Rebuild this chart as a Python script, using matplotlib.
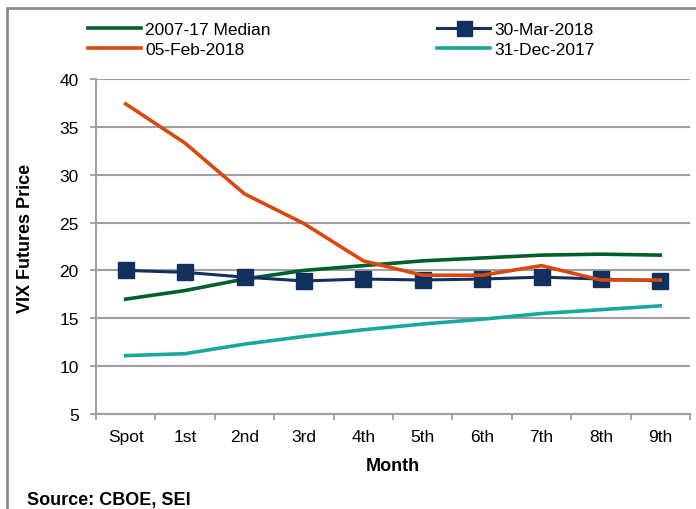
import numpy as np
import matplotlib
matplotlib.use("Agg")
import matplotlib.pyplot as plt
from matplotlib.patches import Rectangle

plt.rcParams["font.family"] = ["Liberation Sans", "DejaVu Sans"]

months = ["Spot", "1st", "2nd", "3rd", "4th", "5th", "6th", "7th", "8th", "9th"]
median_0717 = [17.0, 17.9, 19.1, 20.0, 20.5, 21.0, 21.3, 21.6, 21.7, 21.6]
mar_30_2018 = [20.0, 19.8, 19.3, 18.9, 19.1, 19.0, 19.1, 19.3, 19.1, 18.9]
feb_05_2018 = [37.4, 33.3, 28.0, 24.9, 21.0, 19.5, 19.5, 20.5, 19.0, 19.0]
dec_31_2017 = [11.1, 11.3, 12.3, 13.1, 13.8, 14.4, 14.9, 15.5, 15.9, 16.3]
yticks = [5, 10, 15, 20, 25, 30, 35, 40]

GRID = "#a0a0a0"
FS = 12.5
fig = plt.figure(figsize=(6.96, 5.10), dpi=100)
ax = fig.add_axes([96 / 696, 95 / 510, 594 / 696, 335 / 510])

x = np.arange(len(months))
l1, = ax.plot(x, median_0717, color="#005f2a", lw=2.6, label="2007-17 Median")
l3, = ax.plot(x, mar_30_2018, color="#12305e", lw=2.2, marker="s", ms=12,
              label="30-Mar-2018")
l2, = ax.plot(x, feb_05_2018, color="#d9480f", lw=2.6, label="05-Feb-2018")
l4, = ax.plot(x, dec_31_2017, color="#17aa9c", lw=2.6, label="31-Dec-2017")

ax.set_xlim(-0.5, len(months) - 0.5)
ax.set_ylim(5, 40)
ax.set_yticks(yticks)
ax.set_xticks(x)
ax.set_xticklabels(months, fontsize=FS)
ax.tick_params(axis="x", length=0, pad=11)
ax.set_xticks(np.arange(-0.5, len(months)), minor=True)
ax.tick_params(axis="x", which="minor", length=4.5, color=GRID, width=1.3)
ax.tick_params(axis="y", length=4.5, color=GRID, width=1.3, labelsize=FS, pad=8)
ax.yaxis.grid(True, color=GRID, lw=1.5)
ax.set_axisbelow(True)
for s in ["top", "right"]:
    ax.spines[s].set_visible(False)
for s in ["left", "bottom"]:
    ax.spines[s].set_color(GRID)
    ax.spines[s].set_linewidth(1.5)

ax.set_xlabel("Month", fontsize=13, fontweight="bold")
ax.xaxis.set_label_coords((393 - 96) / 594, (415 - 458) / 335)
ax.set_ylabel("VIX Futures Price", fontsize=13, fontweight="bold")
ax.yaxis.set_label_coords((34 - 96) / 594, (415 - 238) / 335)

fig.legend(handles=[l1, l2, l3, l4], loc="upper left",
           bbox_to_anchor=(72 / 696, 1 - 7 / 510), ncol=2, frameon=False,
           fontsize=FS, handlelength=3.05, handletextpad=0.25,
           columnspacing=9.6, labelspacing=0.3, markerscale=0.9)

fig.text(27 / 696, 1 - 501 / 510, "Source: CBOE, SEI", fontsize=13,
         fontweight="bold", va="center", ha="left")

fig.patches.append(Rectangle((7 / 696, -0.1), 1.2, 1 - 9 / 510 + 0.1,
                             transform=fig.transFigure, fill=False,
                             edgecolor="#8c8c8c", lw=2))

fig.savefig("out.png", dpi=100)
